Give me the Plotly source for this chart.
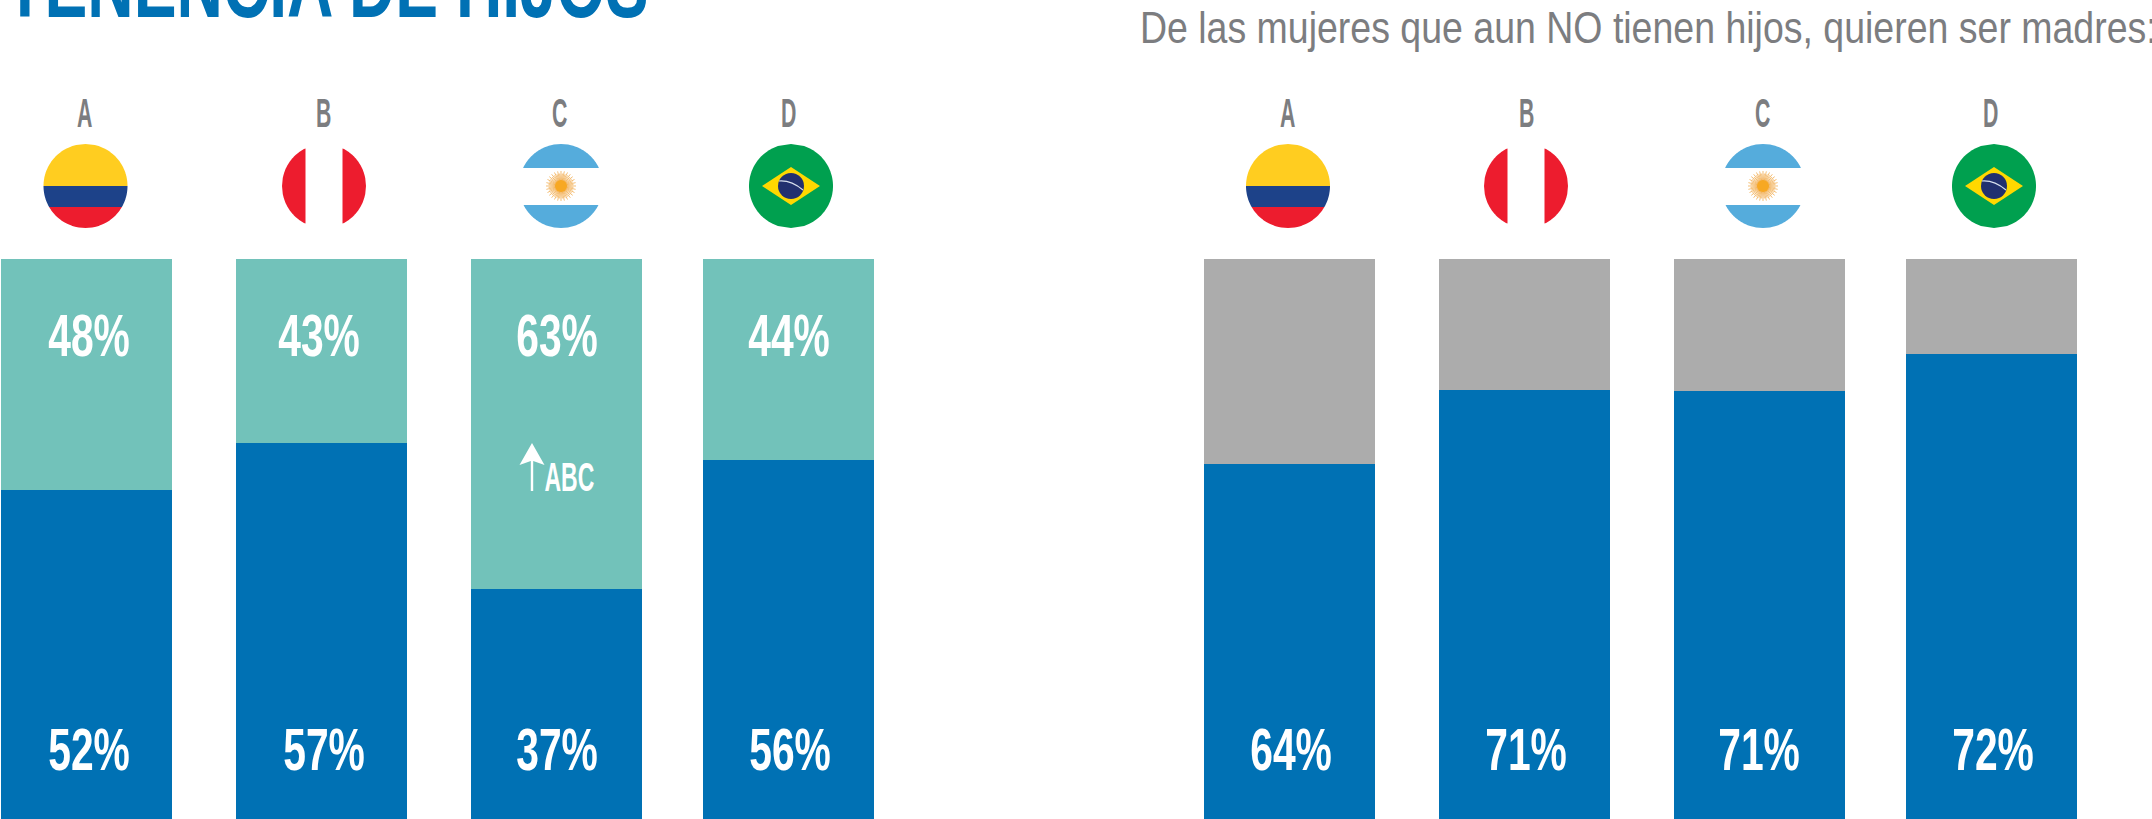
import math
import plotly.graph_objects as go

W, H = 2152, 819

# ---- data ----
categories = ["A", "B", "C", "D"]
left_blue_labels = [52, 57, 37, 56]
left_teal_labels = [48, 43, 63, 44]
right_blue_labels = [64, 71, 71, 72]
# heights as drawn, in % of the visible bar (the drawing is not proportional to its labels)
left_blue_drawn = [58.8, 67.1, 41.1, 64.1]
right_blue_drawn = [63.4, 76.6, 76.4, 83.0]
title_text = "TENENCIA DE HIJOS"
subtitle_text = "De las mujeres que aun NO tienen hijos, quieren ser madres:"
note_text = "ABC"

# ---- layout ----
left_bar_x = [86.5, 321.5, 556.5, 788.5]
right_bar_x = [1289.5, 1524, 1759, 1991.5]
left_flag_x = [85.5, 324, 561, 791]
right_flag_x = [1288, 1526, 1763, 1994]
left_letter_x = [85, 324, 560, 789]
right_letter_x = [1288, 1527, 1763, 1991]
left_label_x = [89, 319, 557, 789]
left_label_x_low = [89, 324, 557, 790]
right_label_x = [1291, 1526, 1759, 1993]
BAR_W_L, BAR_W_R = 171.5, 171
BAR_TOP, BAR_BOTTOM = 259, 819
BLUE, TEAL, GRAY = "#0071B4", "#72C2BA", "#ACACAC"
TXT_GRAY = "#7C7D80"
COND = "Liberation Sans"
yp = lambda py: 1 - py / H
y_max = 100 * H / (BAR_BOTTOM - BAR_TOP)

fig = go.Figure()
for xs, blue, rest, width in [
    (left_bar_x, left_blue_drawn, TEAL, BAR_W_L),
    (right_bar_x, right_blue_drawn, GRAY, BAR_W_R),
]:
    fig.add_bar(x=xs, y=blue, width=width, marker=dict(color=BLUE, line_width=0), hoverinfo="skip")
    fig.add_bar(x=xs, y=[100 - v for v in blue], width=width, marker=dict(color=rest, line_width=0), hoverinfo="skip")

shapes = []
CY, R = 186, 42


def band(cx, y1, y2, color):
    pts = []
    n = 40
    for i in range(n + 1):
        y = y1 + (y2 - y1) * i / n
        pts.append((cx - math.sqrt(max(R * R - y * y, 0)), y))
    for i in range(n, -1, -1):
        y = y1 + (y2 - y1) * i / n
        pts.append((cx + math.sqrt(max(R * R - y * y, 0)), y))
    d = "M" + "L".join(f"{x:.2f},{yp(CY + y):.6f}" for x, y in pts) + "Z"
    shapes.append(dict(type="path", path=d, xref="x", yref="paper", fillcolor=color, line_width=0))


def vband(cx, x1, x2, y_lim, color):
    pts = []
    n = 30
    for i in range(n + 1):
        x = x1 + (x2 - x1) * i / n
        pts.append((x, -min(math.sqrt(max(R * R - x * x, 0)), y_lim)))
    for i in range(n, -1, -1):
        x = x1 + (x2 - x1) * i / n
        pts.append((x, min(math.sqrt(max(R * R - x * x, 0)), y_lim)))
    d = "M" + "L".join(f"{cx + x:.2f},{yp(CY + y):.6f}" for x, y in pts) + "Z"
    shapes.append(dict(type="path", path=d, xref="x", yref="paper", fillcolor=color, line_width=0))


def ellipse(cx, cy, rx, ry, color):
    shapes.append(dict(type="circle", xref="x", yref="paper", x0=cx - rx, x1=cx + rx,
                       y0=yp(cy + ry), y1=yp(cy - ry), fillcolor=color, line_width=0))


def colombia(cx):
    band(cx, -42, 0, "#FFCD20")
    band(cx, 0, 21, "#1D4289")
    band(cx, 21, 42, "#ED1C2E")


def peru(cx, half_white):
    vband(cx, -42, -half_white, 37.5, "#ED1C2E")
    vband(cx, half_white, 42, 37.5, "#ED1C2E")


def argentina(cx):
    band(cx, -42, -18, "#55ACDC")
    band(cx, 19, 42, "#55ACDC")
    rays = []
    for i in range(56):
        a = 2 * math.pi * i / 56
        r = 15 if i % 2 == 0 else 12.5
        rays.append(f"M{cx + 4 * math.cos(a):.2f},{yp(CY + 4 * math.sin(a)):.6f}"
                    f"L{cx + r * math.cos(a):.2f},{yp(CY + r * math.sin(a)):.6f}")
    shapes.append(dict(type="path", path="".join(rays), xref="x", yref="paper", line=dict(color="#EFA23A", width=0.7)))
    ellipse(cx, CY, 6, 6, "#F7A823")


def brazil(cx):
    band(cx, -42, 42, "#00A04F")
    d = f"M{cx - 29},{yp(CY)}L{cx},{yp(CY - 19)}L{cx + 29},{yp(CY)}L{cx},{yp(CY + 19)}Z"
    shapes.append(dict(type="path", path=d, xref="x", yref="paper", fillcolor="#FFD800", line_width=0))
    ellipse(cx, CY, 13, 13, "#22306F")
    d = (f"M{cx - 12},{yp(CY - 5)}Q{cx},{yp(CY - 6)},{cx + 12},{yp(CY + 4)}")
    shapes.append(dict(type="path", path=d, xref="x", yref="paper", line=dict(color="#D8E0EE", width=1.2)))


for xs, pw in [(left_flag_x, 18.5), (right_flag_x, 18.5)]:
    colombia(xs[0])
    peru(xs[1], pw)
    argentina(xs[2])
    brazil(xs[3])

# arrow next to the ABC note
ax = 532
d = (f"M{ax},{yp(443)}L{ax + 12.5},{yp(465)}L{ax + 1.2},{yp(461)}L{ax + 1.2},{yp(491)}"
     f"L{ax - 1.2},{yp(491)}L{ax - 1.2},{yp(461)}L{ax - 12.5},{yp(465)}Z")
shapes.append(dict(type="path", path=d, xref="x", yref="paper", fillcolor="white", line_width=0))

ann = []


def text(t, x, y, size, color, family=COND, bold=True):
    ann.append(dict(text=f"<b>{t}</b>" if bold else t, x=x, y=yp(y), xref="x", yref="paper", xanchor="center",
                    yanchor="middle", showarrow=False, font=dict(family=family, size=size, color=color)))


for xs, c in [(left_letter_x, categories), (right_letter_x, categories)]:
    for x, t in zip(xs, c):
        text(t, x, 113, 41, TXT_GRAY)
for x, v in zip(left_label_x, left_teal_labels):
    text(f"{v}%", x, 335, 60, "white")
for x, v in zip(left_label_x_low, left_blue_labels):
    text(f"{v}%", x, 749, 60, "white")
for x, v in zip(right_label_x, right_blue_labels):
    text(f"{v}%", x, 749, 60, "white")
text(note_text, 569, 477, 40, "white")
text(title_text, 326.5, -16, 95, BLUE)
text(subtitle_text, 1648, 28, 45, TXT_GRAY, bold=False)

fig.update_layout(
    width=W, height=H, autosize=False, barmode="stack", showlegend=False,
    margin=dict(l=0, r=0, t=0, b=0), paper_bgcolor="white", plot_bgcolor="white",
    xaxis=dict(range=[0, W], visible=False, fixedrange=True),
    yaxis=dict(range=[0, y_max], visible=False, fixedrange=True),
    shapes=shapes, annotations=ann,
)

post = """
document.body.style.margin='0';document.documentElement.style.overflow='hidden';
var factors={60:0.68,41:0.52,40:0.575,95:0.676,45:0.833};
document.querySelectorAll('.annotation-text').forEach(function(t){
  var s=Math.round(parseFloat(t.style.fontSize));var f=factors[s];
  if(f){var target=t.getComputedTextLength()*f;t.setAttribute('textLength',target);t.setAttribute('lengthAdjust','spacingAndGlyphs');}
});
"""
fig.write_html("out.html", post_script=post, config={"displayModeBar": False})
